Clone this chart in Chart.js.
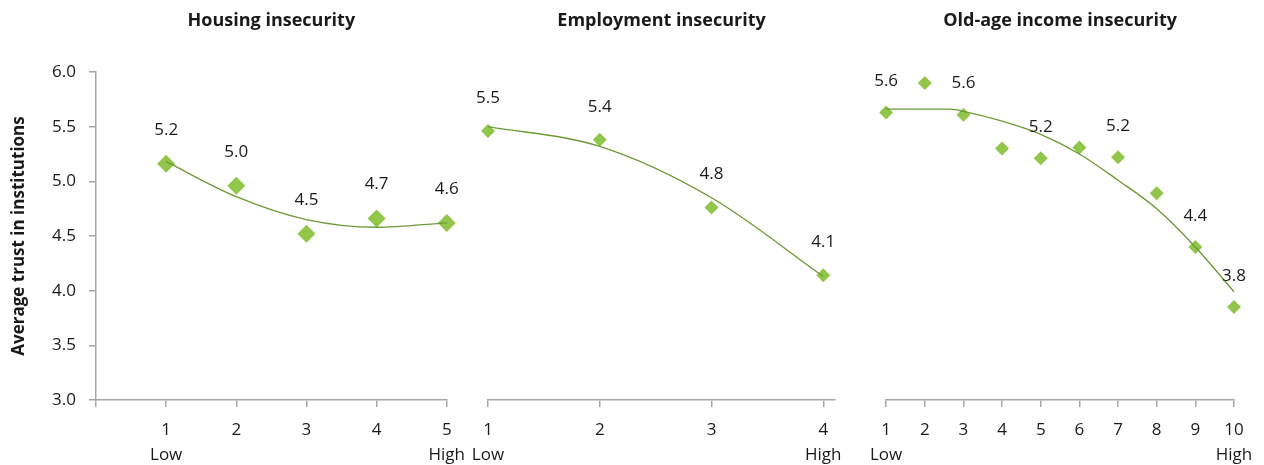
<!DOCTYPE html>
<html><head><meta charset="utf-8">
<script src="https://cdn.jsdelivr.net/npm/chart.js@4.4.1/dist/chart.umd.min.js"></script>
<style>
html,body{margin:0;padding:0;background:#fff}
body{width:1264px;height:465px;position:relative;overflow:hidden}
canvas{position:absolute;top:0}
</style></head><body>
<canvas id="ch1" width="475" height="465" style="left:0px"></canvas>
<canvas id="ch2" width="400" height="465" style="left:460px"></canvas>
<canvas id="ch3" width="404" height="465" style="left:860px"></canvas>
<script>
// ---------- data ----------
const titles = ['Housing insecurity', 'Employment insecurity', 'Old-age income insecurity'];
const yAxisTitle = 'Average trust in institutions';
const yTicks = [3.0, 3.5, 4.0, 4.5, 5.0, 5.5, 6.0];

const housingX = [1, 2, 3, 4, 5];
const housingValues = [5.16, 4.96, 4.52, 4.66, 4.62];
const housingLabels = ['5.2', '5.0', '4.5', '4.7', '4.6'];
const housingTrend = [5.18, 4.86, 4.65, 4.58, 4.62];
const housingTicks = [0, 1, 2, 3, 4, 5];
const housingTickLabels = ['', ['1', 'Low'], '2', '3', '4', ['5', 'High']];

const employmentX = [1, 2, 3, 4];
const employmentValues = [5.46, 5.38, 4.76, 4.14];
const employmentLabels = ['5.5', '5.4', '4.8', '4.1'];
const employmentTrend = [5.50, 5.32, 4.85, 4.13];
const employmentTicks = [1, 2, 3, 4];
const employmentTickLabels = [['1', 'Low'], '2', '3', ['4', 'High']];

const oldAgeX = [1, 2, 3, 4, 5, 6, 7, 8, 9, 10];
const oldAgeValues = [5.63, 5.90, 5.61, 5.30, 5.21, 5.31, 5.22, 4.89, 4.40, 3.85];
const oldAgeLabels = ['5.6', '', '5.6', '', '5.2', '', '5.2', '', '4.4', '3.8'];
const oldAgeTrendX = [1, 2, 2.67, 3, 4, 5, 6, 7, 8, 9, 10];
const oldAgeTrend = [5.66, 5.66, 5.66, 5.64, 5.55, 5.43, 5.25, 5.01, 4.75, 4.40, 3.99];
const oldAgeTicks = [1, 2, 3, 4, 5, 6, 7, 8, 9, 10];
const oldAgeTickLabels = [['1', 'Low'], '2', '3', '4', '5', '6', '7', '8', '9', ['10', 'High']];

// ---------- styles ----------
const FONT = "'Open Sans', 'Noto Sans', sans-serif";
const textColor = '#1a1a1a';
const axisColor = '#a6a6a6';
const markerColor = '#92c64b';
const trendColor = '#6e9a36';

const titlePlugin = {
  id: 'panelTitle',
  afterDraw(chart) {
    const t = chart.options.plugins.panelTitle;
    if (!t || !t.text) return;
    const ctx = chart.ctx, a = chart.chartArea;
    ctx.save();
    ctx.font = 'bold 18px ' + FONT;
    ctx.fillStyle = textColor;
    ctx.textAlign = 'center';
    ctx.textBaseline = 'middle';
    ctx.fillText(t.text, (a.left + a.right) / 2, 21);
    ctx.restore();
  }
};

const labelPlugin = {
  id: 'pointLabels',
  afterDatasetsDraw(chart) {
    const o = chart.options.plugins.pointLabels;
    if (!o) return;
    const meta = chart.getDatasetMeta(o.datasetIndex);
    const ctx = chart.ctx;
    ctx.save();
    ctx.font = '17px ' + FONT;
    ctx.fillStyle = textColor;
    ctx.textAlign = 'center';
    ctx.textBaseline = 'middle';
    meta.data.forEach((el, i) => {
      const s = o.labels[i];
      if (s) ctx.fillText(s, el.x, el.y - o.offset);
    });
    ctx.restore();
  }
};

function makeChart(id, p) {
  const trendPts = p.trendX.map((x, i) => ({ x: x, y: p.trend[i] }));
  const pts = p.x.map((x, i) => ({ x: x, y: p.values[i] }));
  new Chart(document.getElementById(id), {
    type: 'scatter',
    data: {
      datasets: [
        { type: 'line', data: trendPts, borderColor: trendColor, borderWidth: 1.4,
          pointRadius: 0, cubicInterpolationMode: 'monotone', clip: false, order: 0, fill: false },
        { data: pts, pointStyle: 'rectRot', pointRadius: p.r, backgroundColor: markerColor,
          borderColor: markerColor, borderWidth: 0, clip: false, order: 1 }
      ]
    },
    options: {
      responsive: false, animation: false, events: [],
      layout: { padding: { left: p.padL, right: p.padR, top: 72, bottom: 0 } },
      plugins: {
        legend: { display: false }, tooltip: { enabled: false }, title: { display: false },
        panelTitle: { text: p.title },
        pointLabels: { datasetIndex: 1, labels: p.labels, offset: p.labelOffset }
      },
      scales: {
        x: {
          type: 'linear', min: p.xmin, max: p.xmax,
          afterBuildTicks: s => { s.ticks = p.ticks.map(v => ({ value: v })); },
          afterFit: s => { s.height = 65; },
          grid: { display: true, drawOnChartArea: false, drawTicks: true, tickLength: 7, color: axisColor, lineWidth: 1.5 },
          border: { display: true, color: axisColor, width: 1.5 },
          ticks: {
            autoSkip: false, maxRotation: 0, padding: 10, color: textColor,
            font: { family: FONT, size: 17, lineHeight: 1.5 },
            callback: (v, i) => p.tickLabels[i]
          }
        },
        y: {
          type: 'linear', min: 3, max: 6, display: p.showY,
          afterBuildTicks: s => { s.ticks = yTicks.map(v => ({ value: v })); },
          afterFit: s => { s.width = p.showY ? 96 : 0; },
          grid: { display: true, drawOnChartArea: false, drawTicks: true, tickLength: 7, color: axisColor, lineWidth: 1.5 },
          border: { display: true, color: axisColor, width: 1.5 },
          title: { display: true, text: yAxisTitle, color: textColor, padding: { top: 9, bottom: 0 },
                   font: { family: FONT, size: 17, weight: 'bold' } },
          ticks: { padding: 13, color: textColor, font: { family: FONT, size: 17 },
                   callback: v => v.toFixed(1) }
        }
      }
    },
    plugins: [titlePlugin, labelPlugin]
  });
}

makeChart('ch1', { title: titles[0], x: housingX, values: housingValues, labels: housingLabels,
  trendX: housingX, trend: housingTrend, ticks: housingTicks, tickLabels: housingTickLabels,
  xmin: 0, xmax: 5, showY: true, padL: 0, padR: 19, r: 9, labelOffset: 34 });
makeChart('ch2', { title: titles[1], x: employmentX, values: employmentValues, labels: employmentLabels,
  trendX: employmentX, trend: employmentTrend, ticks: employmentTicks, tickLabels: employmentTickLabels,
  xmin: 1, xmax: 4.105, showY: false, padL: 28, padR: 25, r: 7, labelOffset: 33 });
makeChart('ch3', { title: titles[2], x: oldAgeX, values: oldAgeValues, labels: oldAgeLabels,
  trendX: oldAgeTrendX, trend: oldAgeTrend, ticks: oldAgeTicks, tickLabels: oldAgeTickLabels,
  xmin: 1, xmax: 10, showY: false, padL: 25, padR: 30, r: 7, labelOffset: 31 });
</script>
</body></html>
